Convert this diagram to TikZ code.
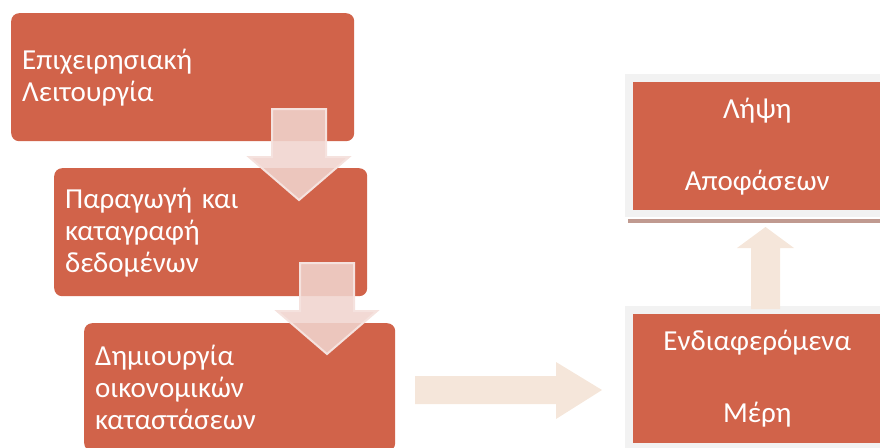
\documentclass[tikz,border=0pt]{standalone}
\usepackage{fontspec}
\setmainfont{Carlito}
\definecolor{boxred}{RGB}{209,99,74}
\definecolor{framegray}{RGB}{242,242,242}
\definecolor{peach}{RGB}{245,230,218}
\definecolor{pinkfill}{RGB}{240,212,206}
\definecolor{pinkline}{RGB}{245,226,222}
\definecolor{shadowbrown}{RGB}{192,154,144}
\tikzset{
  stage/.style={rectangle, rounded corners=8pt, fill=boxred, text=white,
    font=\fontsize{29}{32}\selectfont, align=left, inner xsep=11pt,
    inner ysep=0pt, minimum height=128pt, anchor=north west},
  outcome/.style={rectangle, fill=boxred, text=white,
    font=\fontsize{29}{32}\selectfont, align=center, inner sep=0pt,
    text width=248pt, anchor=north west},
  downarrow/.style={fill=pinkfill, fill opacity=0.88, draw=pinkline,
    line width=2pt, line join=miter},
  flatarrow/.style={fill=peach}
}
\begin{document}
\begin{tikzpicture}[x=1pt,y=-1pt]
			\useasboundingbox (0,0) rectangle (880,447);
			\clip (0,0) rectangle (880,447);
			% left column
			\node[stage, text width=321pt] (operation) at (11,13) {Επιχειρησιακή\\Λειτουργία};
			\node[stage, text width=291pt] (recording) at (54,168) {Παραγωγή και\\καταγραφή\\δεδομένων};
			\node[stage, text width=289pt] (statements) at (84,323) {Δημιουργία\\οικονομικών\\καταστάσεων};
			\draw[downarrow] (272,109)--(326,109)--(326,157)--(349,157)--(299,200)--(249,157)--(272,157)--cycle;
			\draw[downarrow] (300,263)--(354,263)--(354,311)--(377,311)--(327,354)--(277,311)--(300,311)--cycle;
			% right column
			\fill[framegray] (625,74) rectangle (889,217);
			\fill[shadowbrown] (628,219) rectangle (889,223);
			\node[outcome, minimum height=128pt] (decisions) at (633,82) {Λήψη\\[40pt]Αποφάσεων};
			\fill[framegray] (625,306) rectangle (889,455);
			\node[outcome, minimum height=129pt] (stakeholders) at (633,314) {Ενδιαφερόμενα\\[40pt]Μέρη};
			\fill[flatarrow] (415,376)--(556,376)--(556,362)--(602,390)--(556,419)--(556,404)--(415,404)--cycle;
			\fill[flatarrow] (751,309)--(751,248)--(737,248)--(765.5,227)--(794,248)--(780,248)--(780,309)--cycle;
		\end{tikzpicture}
\end{document}
